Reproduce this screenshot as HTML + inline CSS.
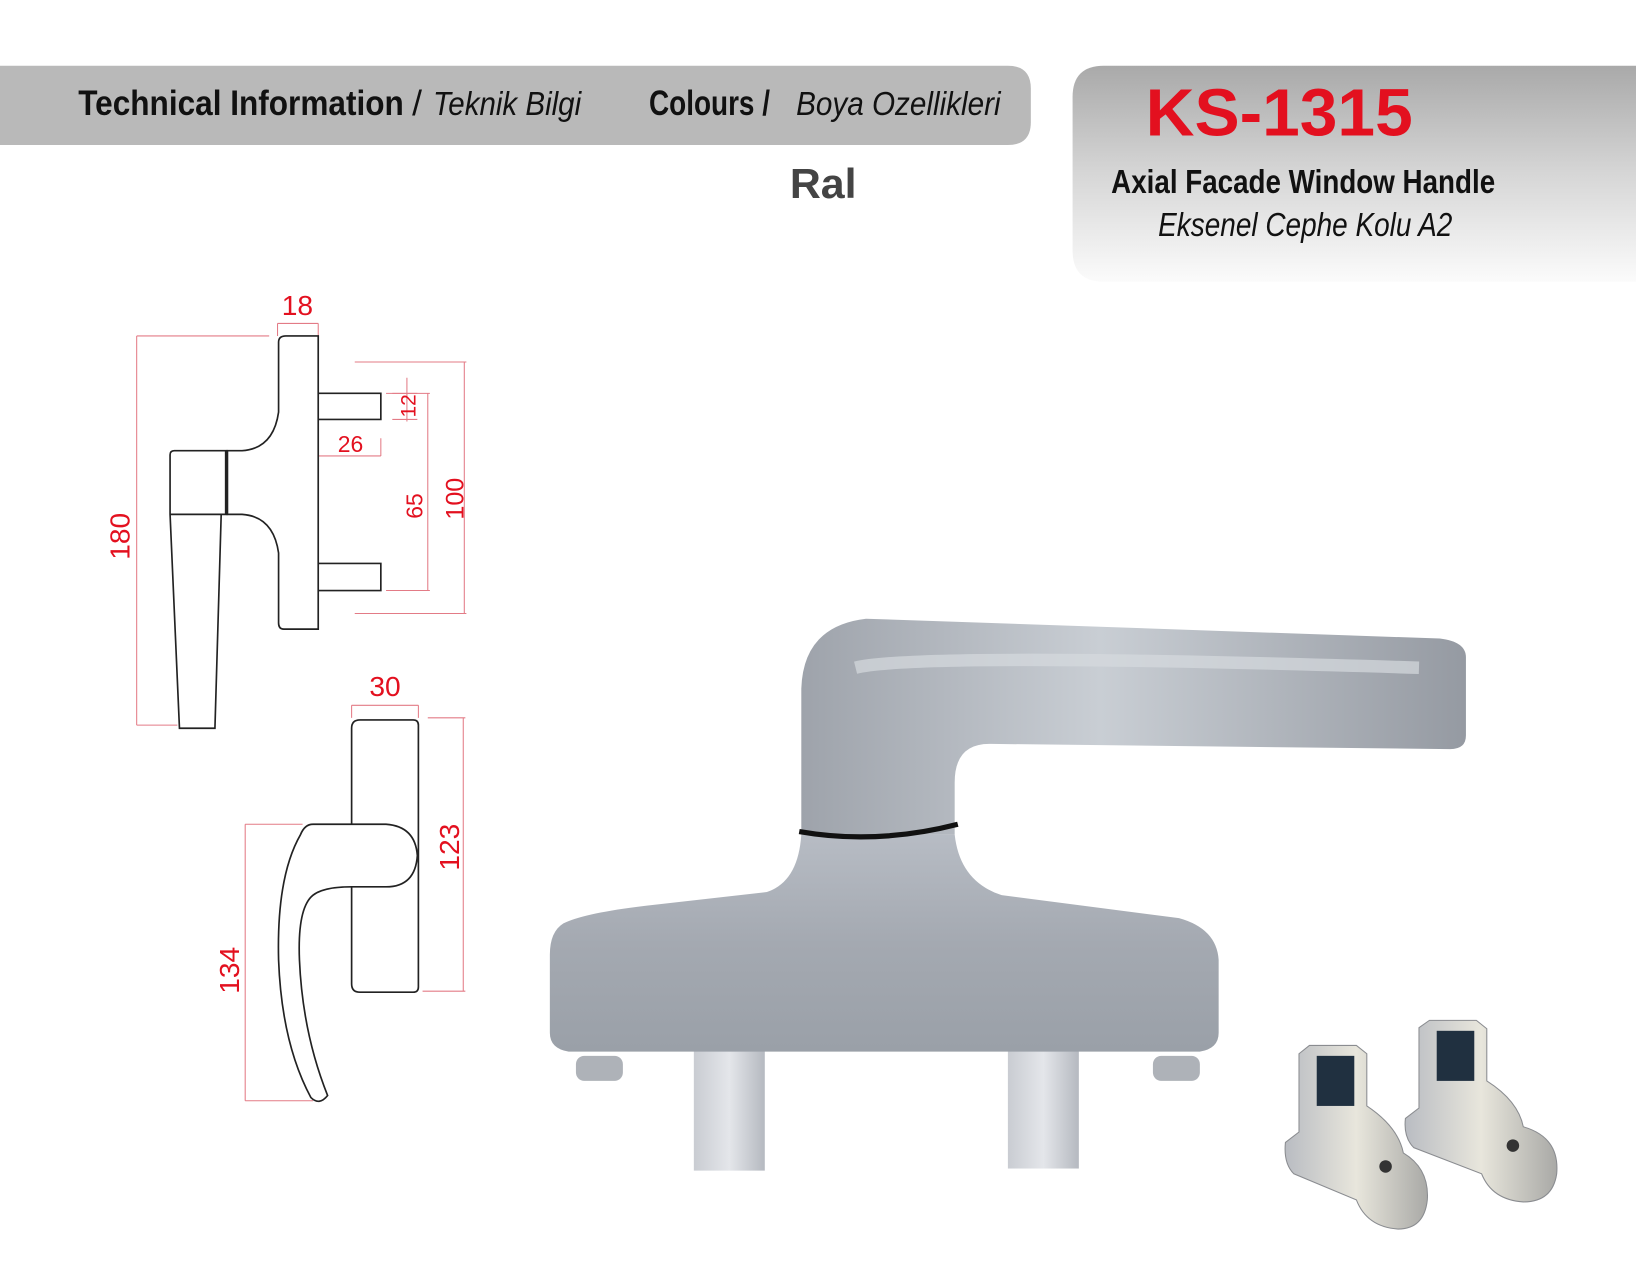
<!DOCTYPE html>
<html><head><meta charset="utf-8"><style>
html,body{margin:0;padding:0;background:#fff;}
svg{display:block}
text{font-family:"Liberation Sans",sans-serif}
</style></head><body>
<svg width="1636" height="1276" viewBox="0 0 1568 1223" preserveAspectRatio="none" xmlns="http://www.w3.org/2000/svg">
<defs>
<linearGradient id="rp" x1="0" y1="0" x2="0" y2="1"><stop offset="0" stop-color="#a9a9a9"/><stop offset="0.5" stop-color="#d6d6d6"/><stop offset="1" stop-color="#fbfbfb"/></linearGradient>
<linearGradient id="mt" x1="0" y1="0" x2="0" y2="1"><stop offset="0" stop-color="#b7bcc4"/><stop offset="0.5" stop-color="#a4a9b1"/><stop offset="1" stop-color="#9aa0a8"/></linearGradient>
<linearGradient id="col" x1="0" y1="0" x2="1" y2="0"><stop offset="0" stop-color="#9ea3ab"/><stop offset="0.45" stop-color="#c9ced4"/><stop offset="1" stop-color="#959aa2"/></linearGradient>
<linearGradient id="pin" x1="0" y1="0" x2="1" y2="0"><stop offset="0" stop-color="#c9ccd2"/><stop offset="0.5" stop-color="#e4e6ea"/><stop offset="1" stop-color="#b5b9c0"/></linearGradient>
<linearGradient id="br" x1="0" y1="0" x2="1" y2="0"><stop offset="0" stop-color="#b9bcc2"/><stop offset="0.5" stop-color="#e8e6dc"/><stop offset="1" stop-color="#a9a9a6"/></linearGradient>
</defs>
<!-- header bar -->
<path d="M0 63 H966 Q988 63 988 85 V117 Q988 139 966 139 H0 Z" fill="#b9b9b9"/>
<text x="75" y="110" font-size="34" font-weight="bold" fill="#111" transform="scale(1,1)" textLength="312" lengthAdjust="spacingAndGlyphs">Technical Information</text>
<text x="395" y="110" font-size="34" fill="#111">/</text>
<text x="415" y="110" font-size="32" font-style="italic" fill="#111" textLength="142" lengthAdjust="spacingAndGlyphs">Teknik Bilgi</text>
<text x="622" y="110" font-size="34" font-weight="bold" fill="#111" textLength="116" lengthAdjust="spacingAndGlyphs">Colours /</text>
<text x="763" y="110" font-size="32" font-style="italic" fill="#111" textLength="196" lengthAdjust="spacingAndGlyphs">Boya Ozellikleri</text>
<text x="757" y="190" font-size="40" font-weight="bold" fill="#444" textLength="64" lengthAdjust="spacingAndGlyphs">Ral</text>
<!-- right panel -->
<path d="M1058 63 H1568 V270 H1058 Q1028 270 1028 240 V93 Q1028 63 1058 63 Z" fill="url(#rp)"/>
<text x="1098" y="130" font-size="64" font-weight="bold" fill="#e3101f" textLength="256" lengthAdjust="spacingAndGlyphs">KS-1315</text>
<text x="1065" y="185" font-size="32" font-weight="bold" fill="#111" textLength="368" lengthAdjust="spacingAndGlyphs">Axial Facade Window Handle</text>
<text x="1110" y="226" font-size="32" font-style="italic" fill="#111" textLength="282" lengthAdjust="spacingAndGlyphs">Eksenel Cephe Kolu A2</text>

<!-- top technical drawing -->
<g fill="none" stroke="#e37b86" stroke-width="1">
<path d="M131 322 H258 M131 322 V695 M131 695 H170 M266 322 V310 M305 322 V310 M266 310 H305"/>
<path d="M340 347 H447 M445 347 V588 M340 588 H447 M370 377 H412 M410 377 V566 M370 566 H412"/>
<path d="M305 437 H365 M365 420 V437 M390 362 V404 M376 377 H400 M376 402 H400"/>
<path d="M337 688 V676 M401 688 V676 M337 676 H401 M410 688 H446 M444 688 V950 M405 950 H446 M235 790 H290 M235 790 V1055 M235 1055 H300"/>
</g>
<g fill="#e3101f" font-size="24" text-anchor="middle">
<text x="285" y="302" font-size="27">18</text>
<text x="336" y="433" font-size="22">26</text>
<text x="369" y="667" font-size="27">30</text>
<text transform="translate(124 514) rotate(-90)" font-size="27">180</text>
<text transform="translate(405 485) rotate(-90)" font-size="22">65</text>
<text transform="translate(444 478) rotate(-90)" font-size="24">100</text>
<text transform="translate(398 389) rotate(-90)" font-size="20">12</text>
<text transform="translate(440 812) rotate(-90)" font-size="27">123</text>
<text transform="translate(229 930) rotate(-90)" font-size="27">134</text>
</g>
<g fill="none" stroke="#222" stroke-width="1.6">
<path d="M305 322 V603 H272 Q267 603 267 597 V530 Q262 495 232 493 H218 V432 H232 Q262 430 267 395 V328 Q267 322 274 322 Z"/>
<path d="M305 377 H365 V402 H305 M305 540 H365 V566 H305"/>
<path d="M218 432 H167 Q163 432 163 436 V493 L172 698 H206 L212 493 H218 M163 493 H218"/>
<path d="M217 432 V493" stroke-width="3"/>
<path d="M401 695 V946 Q401 951 396 951 H345 Q337 951 337 943 V698 Q337 690 345 690 H396 Q401 690 401 695 Z"/>
<path d="M337 790 H300 Q292 790 288 800 Q265 840 267 920 Q270 1000 298 1052 Q306 1060 314 1050 Q290 990 287 920 Q285 870 300 858 Q310 850 337 850 H370 Q398 850 400 820 Q398 792 370 790 H337" fill="#fff"/>
</g>

<!-- photo handle -->
<rect x="665" y="990" width="68" height="132" fill="url(#pin)"/>
<rect x="966" y="990" width="68" height="130" fill="url(#pin)"/>
<rect x="552" y="1012" width="45" height="24" rx="8" fill="#aeb2b8"/>
<rect x="1105" y="1012" width="45" height="24" rx="8" fill="#aeb2b8"/>
<path d="M540 885 Q560 875 620 868 L735 855 Q765 845 768 800 H915 Q920 845 960 858 L1130 880 Q1166 890 1168 920 V990 Q1168 1005 1150 1008 H545 Q527 1005 527 990 V915 Q527 893 540 885 Z" fill="url(#mt)"/>
<path d="M768 800 V660 Q770 600 830 593 L1380 612 Q1405 615 1405 630 V705 Q1405 718 1390 718 L950 713 Q915 712 915 750 V800 Z" fill="url(#col)"/>
<path d="M820 640 Q880 625 1360 640" stroke="#d6dade" stroke-width="12" fill="none" opacity="0.7"/>
<path d="M766 797 Q840 810 918 790" stroke="#111" stroke-width="5" fill="none"/>
<!-- brackets -->
<g>
<path d="M1245 1010 L1255 1002 H1300 L1310 1010 V1060 Q1340 1080 1345 1105 Q1370 1120 1368 1150 Q1365 1178 1340 1178 Q1310 1176 1300 1150 L1240 1125 Q1230 1115 1232 1095 L1245 1085 Z" fill="url(#br)" stroke="#8a8c90"/>
<rect x="1262" y="1012" width="36" height="48" fill="#203040"/>
<circle cx="1328" cy="1118" r="6" fill="#333"/>
<path d="M1360 985 L1370 978 H1415 L1425 986 V1036 Q1455 1055 1460 1080 Q1495 1090 1492 1125 Q1488 1152 1460 1152 Q1430 1150 1420 1125 L1355 1100 Q1345 1090 1347 1072 L1360 1062 Z" fill="url(#br)" stroke="#8a8c90"/>
<rect x="1377" y="988" width="36" height="48" fill="#203040"/>
<circle cx="1450" cy="1098" r="6" fill="#333"/>
</g>
</svg>
</body></html>
